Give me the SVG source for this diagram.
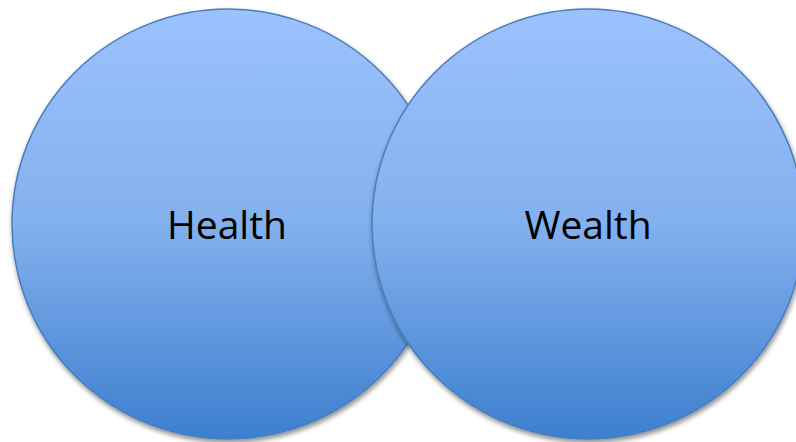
<svg xmlns="http://www.w3.org/2000/svg" width="796" height="442" viewBox="0 0 796 442">
  <defs>
    <linearGradient id="blueFill" x1="0" y1="0" x2="0" y2="1">
      <stop offset="0" stop-color="#9cc2fc"/>
      <stop offset="0.5" stop-color="#83b0ee"/>
      <stop offset="1" stop-color="#3d7fcf"/>
    </linearGradient>
    <filter id="softShadow" x="-10%" y="-10%" width="120%" height="125%">
      <feGaussianBlur in="SourceAlpha" stdDeviation="2.5"/>
      <feOffset dx="1" dy="3" result="blur"/>
      <feComponentTransfer>
        <feFuncA type="linear" slope="0.45"/>
      </feComponentTransfer>
      <feMerge>
        <feMergeNode/>
        <feMergeNode in="SourceGraphic"/>
      </feMerge>
    </filter>
  </defs>
  <style>
    .bubble { fill: url(#blueFill); stroke: #4a7ebb; stroke-width: 1.5; filter: url(#softShadow); }
    .label { font-family: "Open Sans", "Noto Sans", sans-serif; font-size: 39px; fill: #000; text-anchor: middle; }
  </style>
  <rect width="796" height="442" fill="#ffffff"/>
  <g id="health">
    <ellipse class="bubble" cx="228" cy="224" rx="216" ry="215"/>
    <text class="label" x="227" y="239">Health</text>
  </g>
  <g id="wealth">
    <ellipse class="bubble" cx="588" cy="224" rx="216" ry="215"/>
    <text class="label" x="588" y="239">Wealth</text>
  </g>
</svg>
